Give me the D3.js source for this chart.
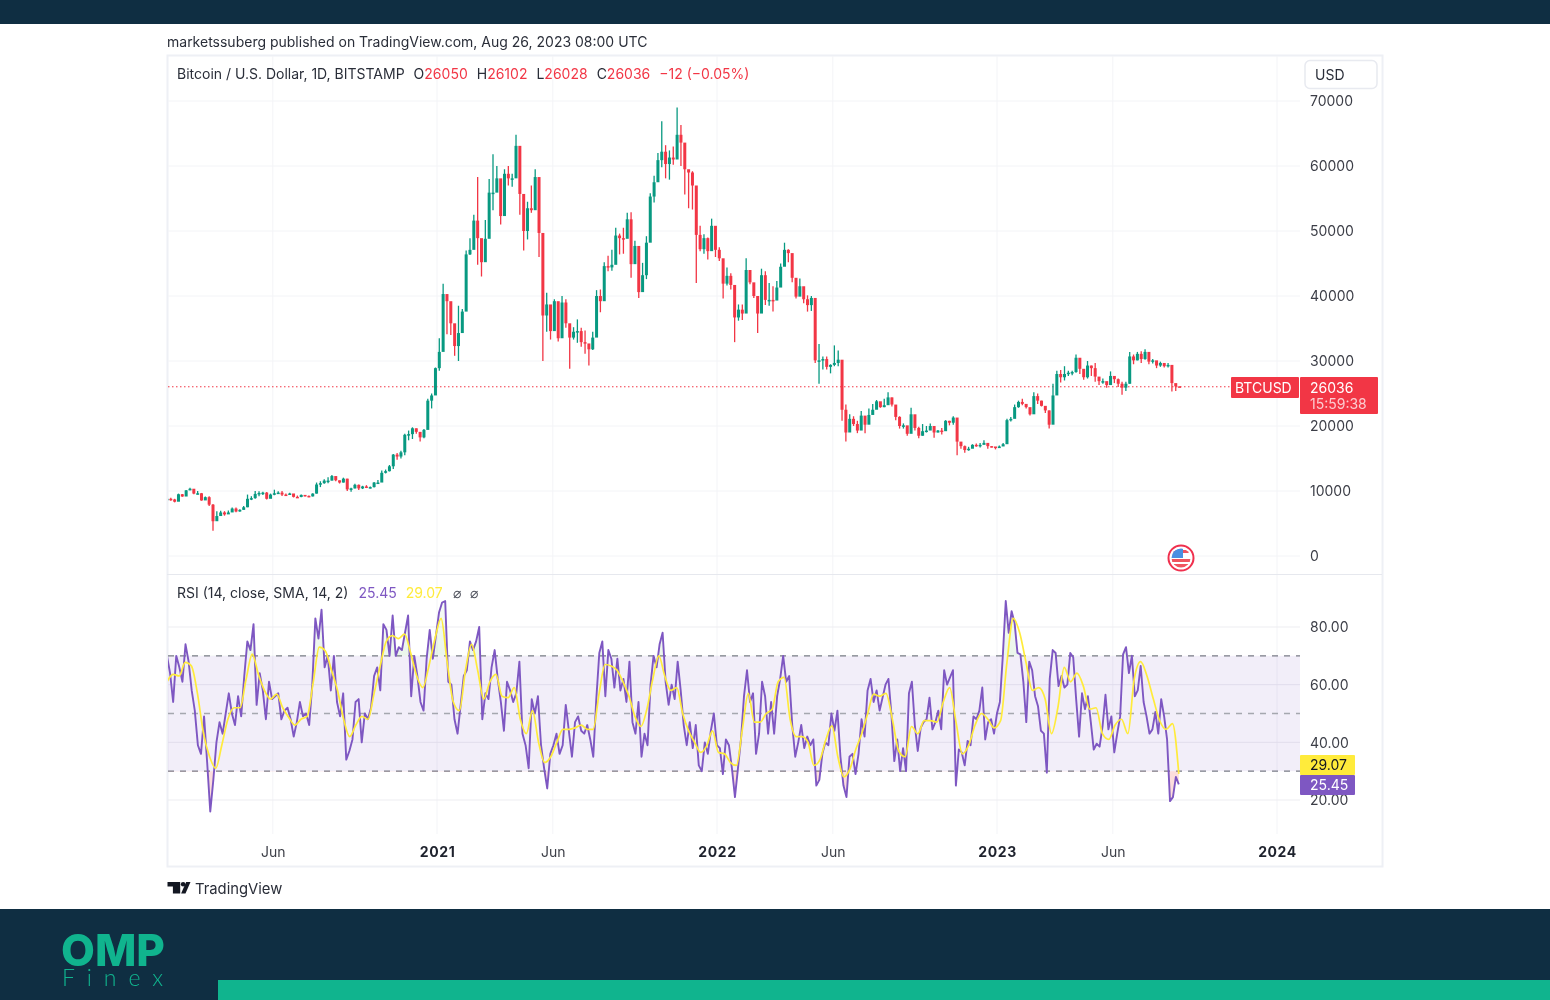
<!DOCTYPE html>
<html>
<head>
<meta charset="utf-8">
<title>BTCUSD</title>
<script src="https://d3js.org/d3.v7.min.js"></script>
<style>
  html, body { margin: 0; padding: 0; background: #fff; }
  svg { display: block; filter: blur(0.35px); }
  text { font-family: Inter, Roboto, "Noto Sans", sans-serif; }
  .axis .domain, .axis line { display: none; }
  .axis text { font-family: Inter, Roboto, sans-serif; font-size: 14px; fill: #3c3e47; }
</style>
</head>
<body>
<script>
const firstDay = new Date(Date.UTC(2020, 0, 15)),
    lastDay = new Date(Date.UTC(2023, 7, 26)),
    candleStep = 5; // [days]

const closes = [
    8800,8700,8350,9500,9150,10100,10350,9600,9650,8550,
    9050,7900,5350,6150,6700,6400,6700,7300,6850,7100,
    7500,8800,8900,9550,9700,9750,8800,9450,9650,9750,
    9450,9400,9620,9100,9080,9400,9250,9170,9600,11000,
    11200,11600,11600,12300,11650,11300,11900,10250,10400,10950,
    10400,10700,10600,10600,11300,11300,12800,13050,13800,15600,
    15300,15950,18650,18750,19650,19100,18250,19400,23900,24700,
    28900,
    31400,40300,39200,35800,32300,34300,37600,46400,47100,51600,
    48900,45200,48800,55900,55900,58100,52300,58800,58100,58100,
    63100,55700,50000,53500,53200,58300,49700,37000,38700,34600,
    39200,33500,39000,35800,33600,34500,34600,32900,32700,31800,
    33600,40000,39200,44600,44400,44800,49300,48900,48800,51800,
    44900,47700,40600,43200,48200,55300,57500,60900,62200,60300,
    61300,61000,64800,63600,59500,59000,57000,49400,47200,48900,
    46900,50800,47100,
    45800,41900,43100,41700,36700,37900,37300,44000,42100,40000,
    37300,43200,39400,39400,39300,41300,44500,47100,46600,42800,
    39900,41500,39500,38600,39700,30100,30100,30300,29100,29400,
    29700,30200,22500,19000,21100,20300,19300,21600,20200,21700,
    22500,23800,22900,23200,24400,23300,21400,20000,20100,18800,
    21800,19700,18500,19200,19300,20000,19000,19300,19200,20800,
    20500,21300,17600,16900,16300,16500,17100,17000,17100,17400,
    16900,16850,16600,
    16850,17200,20900,21100,22900,23700,23400,22900,21800,24600,
    23900,23100,22400,20200,24700,28000,27500,28000,28200,28300,
    30500,28800,27500,29300,28900,27600,26900,26900,26300,27700,
    27200,26500,25900,26500,30700,30100,31100,30300,31400,29900,
    30100,29300,29700,29200,29400,26600,26100,26036
];

const highs = [
    9000,8950,8800,9600,9550,10150,10500,10200,10000,9700,
    9150,9200,8000,6900,6950,6900,7000,7450,7450,7200,
    7700,9450,9200,10000,9950,9900,9850,9600,10200,9950,
    10000,9600,9720,9500,9300,9450,9350,9300,9650,11300,
    11500,11800,12100,12450,12000,11600,12050,11900,10500,11100,
    11000,10800,10900,10700,11400,11700,13150,13300,14000,15700,
    15850,16200,18800,19300,19800,19600,18600,19550,24200,25000,
    29000,
    33500,41900,40000,37900,33000,38500,38000,47000,48900,52500,
    58300,46900,51700,58000,61800,60000,56000,59500,60000,58800,
    64800,57500,52000,54500,57000,59500,51500,45000,40500,37000,
    39500,37500,40000,39500,35500,35200,36400,35100,34700,32400,
    34500,40900,41000,45200,46200,47100,50500,49600,50500,52800,
    52900,48500,45000,45100,49200,55800,58500,62000,66900,63200,
    62400,63000,69000,66300,60900,59400,59200,53900,50800,49500,
    49000,51900,48500,
    47500,43900,44400,43500,38900,38700,38700,45800,43000,41000,
    39800,44200,43800,42000,41500,42300,45000,48200,47200,43800,
    41500,42700,40800,40100,40000,34800,32600,30700,30700,29500,
    32400,31600,27000,23300,21800,21500,20800,22300,20800,22700,
    23400,24000,23500,24200,25200,24400,21700,21500,20400,20000,
    22800,20200,19900,20300,20000,20400,19500,19400,19700,20900,
    20800,21500,18700,17200,17000,16800,17200,17300,17400,17800,
    17000,16900,16700,
    17000,17400,21100,21400,23300,23900,24200,23400,22300,25200,
    25000,23900,22600,22400,26500,28500,28600,29200,28500,28500,
    31000,30400,28000,30000,29300,29700,27500,27300,26800,28400,
    27400,27300,26800,26800,31400,31000,31400,31500,31800,30300,
    30300,29900,29900,29500,29700,29300,26300,26102
];

const lows = [
    8600,8500,8250,9300,9100,9650,10100,9500,9450,8500,
    8600,7700,3900,5600,6400,6200,6500,6800,6750,6800,
    7100,7500,8600,8800,9200,9400,8700,9300,9350,9600,
    9250,9250,9450,9000,9000,9050,9150,9050,9150,9600,
    10600,11100,11200,11600,11500,11150,11300,10000,9900,10400,
    10150,10300,10450,10400,10550,11150,11400,12700,13000,13400,
    14800,15000,15500,17800,18000,18800,17600,18100,21900,22700,
    25800,
    28500,36500,34100,34000,30800,30000,36500,43800,46300,48000,
    44800,43000,46300,49800,53200,57000,51000,54800,57000,56800,
    60000,52500,47000,48700,52800,55000,46000,30000,34500,33300,
    36500,33000,34700,35100,28800,33300,32800,32200,31100,29300,
    31700,37900,37500,42800,43800,43900,48000,46400,46500,50000,
    42800,46700,39700,40800,42600,48500,54400,58900,59800,58100,
    57900,60200,62700,60000,55600,53500,53300,42000,46900,46500,
    45600,48900,46000,
    45400,39600,41600,41000,32900,36200,36300,41500,41800,39700,
    34300,37400,38600,38500,37600,40500,42700,46500,45200,42100,
    39600,40500,38900,37600,37700,29700,26500,28700,28700,28100,
    29200,29200,20800,17600,20800,20000,18900,20600,18900,20700,
    21800,22900,22800,22900,23800,23000,20900,19600,19600,18500,
    21000,19300,18100,18500,19000,19700,18200,19000,18700,19300,
    20100,20200,15500,16500,15900,16200,16700,16800,16700,17200,
    16500,16700,16400,
    16700,17000,19000,20700,22400,22800,23200,22700,21600,23300,
    23400,23000,22000,19600,22700,26500,26700,27000,27700,27800,
    28200,28000,27100,27300,27700,26800,26300,26500,25900,27000,
    26600,26000,24800,25400,26500,29500,30100,29700,30200,29500,
    29600,28900,29100,29000,29000,25300,25400,26028
];

const rsiValues = [
    70,64,54,70,66,61,74,68,58,51,39,36,49,33,16,27,40,47,43,50,
    57,50,46,56,49,63,75,72,81,53,64,58,48,61,55,56,57,48,51,52,
    48,42,47,54,49,50,46,60,83,76,86,66,70,58,70,54,49,57,34,37,
    41,54,55,40,50,48,52,63,66,58,81,79,70,84,70,73,72,78,84,56,
    70,63,54,51,69,79,69,77,85,88.5,89,61,60,48,43,53,63,65,75,72,
    75,80,48,57,55,66,72,62,54,44,61,58,54,57,68,43,39,31,55,50,
    56,39,31,24,36,39,43,36,39,53,44,35,47,49,
    44,43,46,41,35,55,71,75,56,72,69,59,69,58,62,54,68,47,43,54,
    35,43,39,60,70,66,74,78,61,53,60,55,68,58,46,39,47,38,46,32,
    30,40,36,44,50,39,38,29,41,39,31,21,31,41,56,65,54,57,36,43,
    61,56,43,54,43,56,62,70,61,63,46,35,40,46,38,42,39,41,25,27,
    36,40,39,50,44,51,35,25,21,35,36,29,36,48,42,58,62,54,58,
    51,55.5,60,62,50,33.5,41,30,38,30,57,61,46,37,45,47,48,55.5,44.5,47,
    51,44.5,65,60,62.5,65,25,37.5,36.5,32,40.5,39,49,48,51,59,41,47,48,43,
    50,54,70,89,78,85.5,81.5,71,70.5,61,47,68,65,56,52.5,44,43,29.5,62,72,
    71,59.5,63,59,60,71,69.5,55,42,57,51.5,56,47,37.5,39.5,38.5,45.5,56.5,44.5,49,
    36.5,43,49,70.5,73,64,70,56,58,66.5,54,49,43,44.5,50.5,43,55,49,41,19.6,
    21,28,25.45
];
const rsiBreaks = [0, 134, 233, 335];

// RSI-based moving average, same three stretches
const rsiMaValues = [
    61,63.6,63,67.7,66.5,57,43,35,31,39,48,52,52,62,70.6,63.6,58,55,56.7,52,
    48.6,46,48,49,60.7,73,71.7,65,58,48,42,46,49,48,57,66.5,75,77,76,77.5,
    71,63,59,66.5,76,83,67.7,54,51,65,74,65,55,61,63.6,56,55.5,59,48,43,
    51,40,33,35,40,44.5,44.5,45,
    46,44.5,44.5,57,67,66.5,65,61,56,49,45.5,51.5,62,70,63,58,59,50,44,40,
    36.5,38.7,44,36.5,36,33,32,44.5,57,47,47,50,51.5,61,62.5,48,42,42,40,32,
    34,41,45.7,35,28,30.6,37.5,43,50,56.7,
    56,57,48,37,35,45.5,43,47.5,47.5,47,54,59,47,36,39,46,50,48,45,47.5,
    67.7,83,78,67.7,58,59,55,43,52,66,61,64,59.5,51.5,52,43,41,46,48,43,
    62,68,63,55,47.5,44.5,46.5,29.07
];
const rsiMaBreaks = [0, 68, 118, 165];

// where the three stretches start and end
const stretchDates = [firstDay, new Date(Date.UTC(2021, 6, 8)), new Date(Date.UTC(2022, 7, 1)), lastDay];

const priceTicks = [0, 10000, 20000, 30000, 40000, 50000, 60000, 70000],
    rsiTicks = [20, 40, 60, 80],
    rsiLevels = [70, 50, 30],
    timeTicks = [
        {date: new Date(Date.UTC(2020, 5, 1)), label: "Jun"},
        {date: new Date(Date.UTC(2021, 0, 1)), label: "2021", year: true},
        {date: new Date(Date.UTC(2021, 5, 1)), label: "Jun"},
        {date: new Date(Date.UTC(2022, 0, 1)), label: "2022", year: true},
        {date: new Date(Date.UTC(2022, 5, 1)), label: "Jun"},
        {date: new Date(Date.UTC(2023, 0, 1)), label: "2023", year: true},
        {date: new Date(Date.UTC(2023, 5, 1)), label: "Jun"},
        {date: new Date(Date.UTC(2024, 0, 1)), label: "2024", year: true}
    ];

const lastPrice = 26036,
    lastRsi = 25.45,
    lastRsiMa = 29.07;

// colours
const up = "#089981",
    down = "#f23645",
    purple = "#7e57c2",
    yellow = "#ffeb3b",
    navy = "#0f2e42",
    teal = "#10b48e",
    grid = "#f3f4f7",
    frame = "#eef0f5";

// pane layout
const plotLeft = 168,
    plotRight = 1300,
    frameRight = 1382;

const svg = d3.select("body").append("svg")
    .attr("width", 1550)
    .attr("height", 1000);

const defs = svg.append("defs");
defs.append("clipPath").attr("id", "plotClip")
    .append("rect").attr("x", plotLeft).attr("y", 56).attr("width", plotRight - plotLeft).attr("height", 810);
defs.append("clipPath").attr("id", "overClip")
    .append("rect").attr("x", plotLeft).attr("y", 575).attr("width", plotRight - plotLeft).attr("height", 81);
defs.append("clipPath").attr("id", "underClip")
    .append("rect").attr("x", plotLeft).attr("y", 771).attr("width", plotRight - plotLeft).attr("height", 60);
let overGrad = defs.append("linearGradient").attr("id", "overGrad")
    .attr("x1", 0).attr("x2", 0).attr("y1", 0).attr("y2", 1);
overGrad.append("stop").attr("offset", "0%").attr("stop-color", "#4caf50").attr("stop-opacity", 0.05);
overGrad.append("stop").attr("offset", "100%").attr("stop-color", "#4caf50").attr("stop-opacity", 0.3);

// scales
let xScale = d3.scaleUtc()
    .domain([new Date(Date.UTC(2021, 0, 1)), new Date(Date.UTC(2024, 0, 1))])
    .range([437, 1277]);
let yPrice = d3.scaleLinear().domain([0, 70000]).range([556, 101]);
let yRsi = d3.scaleLinear().domain([20, 80]).range([800, 627]);
// index -> time, kept in ms because d3's date interpolator reuses one Date object
let rsiDate = d3.scaleLinear().domain(rsiBreaks).range(stretchDates.map(Number));
let maDate = d3.scaleLinear().domain(rsiMaBreaks).range(stretchDates.map(Number));

const dayMs = 86400000;

let candles = closes.map((c, i) => ({
    date: new Date(+firstDay + i * candleStep * dayMs),
    open: i ? closes[i - 1] : 8700,
    close: c,
    high: highs[i],
    low: lows[i]
}));
let rsiData = rsiValues.map((v, i) => ({date: new Date(rsiDate(i)), v: v}));
let maData = rsiMaValues.map((v, i) => ({date: new Date(maDate(i)), v: v}));

// header and footer bands
svg.append("rect").attr("width", 1550).attr("height", 24).attr("fill", navy);
svg.append("rect").attr("y", 909).attr("width", 1550).attr("height", 91).attr("fill", navy);
svg.append("rect").attr("x", 218).attr("y", 980).attr("width", 1332).attr("height", 20).attr("fill", teal);

svg.append("text").attr("x", 167).attr("y", 47)
    .attr("font-size", 14).attr("fill", "#2a2e39")
    .text("marketssuberg published on TradingView.com, Aug 26, 2023 08:00 UTC");

// chart frame
svg.append("rect").attr("x", 167.5).attr("y", 55.5)
    .attr("width", frameRight - 167).attr("height", 811)
    .attr("fill", "#fff").attr("stroke", frame).attr("stroke-width", 2);

// grid
let gridG = svg.append("g");
gridG.selectAll(".vgrid").data(timeTicks).join("line")
    .attr("x1", d => xScale(d.date)).attr("x2", d => xScale(d.date))
    .attr("y1", 56).attr("y2", 834)
    .attr("stroke", grid);
gridG.selectAll(".pgrid").data(priceTicks).join("line")
    .attr("x1", plotLeft).attr("x2", plotRight)
    .attr("y1", d => yPrice(d)).attr("y2", d => yPrice(d))
    .attr("stroke", grid);

svg.append("line").attr("x1", 167).attr("x2", frameRight)
    .attr("y1", 574.5).attr("y2", 574.5).attr("stroke", "#e6e8ee");

// rsi background
svg.append("rect").attr("x", plotLeft).attr("width", plotRight - plotLeft)
    .attr("y", yRsi(70)).attr("height", yRsi(30) - yRsi(70))
    .attr("fill", purple).attr("fill-opacity", 0.1);
gridG.selectAll(".rgrid").data(rsiTicks).join("line")
    .attr("x1", plotLeft).attr("x2", plotRight)
    .attr("y1", d => yRsi(d)).attr("y2", d => yRsi(d))
    .attr("stroke", "#ebebf0").attr("stroke-opacity", 0.9);
svg.selectAll(".level").data(rsiLevels).join("line")
    .attr("x1", plotLeft).attr("x2", plotRight)
    .attr("y1", d => yRsi(d)).attr("y2", d => yRsi(d))
    .attr("stroke", d => d == 50 ? "#a5a7af" : "#787b86")
    .attr("stroke-width", 1.3)
    .attr("stroke-dasharray", "6 6");

// last price line
svg.append("line").attr("x1", plotLeft).attr("x2", 1231)
    .attr("y1", yPrice(lastPrice)).attr("y2", yPrice(lastPrice))
    .attr("stroke", down).attr("stroke-width", 1).attr("stroke-dasharray", "1.5 2.5");

// candles
let candleG = svg.append("g").attr("clip-path", "url(#plotClip)");
candleG.selectAll(".wick").data(candles).join("line")
    .attr("x1", d => xScale(d.date)).attr("x2", d => xScale(d.date))
    .attr("y1", d => yPrice(d.high)).attr("y2", d => yPrice(d.low))
    .attr("stroke", d => d.close >= d.open ? up : down)
    .attr("stroke-width", 1.3);
candleG.selectAll(".body").data(candles).join("rect")
    .attr("x", d => xScale(d.date) - 1.5)
    .attr("width", 3)
    .attr("y", d => yPrice(Math.max(d.open, d.close)))
    .attr("height", d => Math.max(1.5, Math.abs(yPrice(d.open) - yPrice(d.close))))
    .attr("fill", d => d.close >= d.open ? up : down);

// rsi fills and lines
let rsiArea = d3.area()
    .x(d => xScale(d.date))
    .y0(yRsi(70))
    .y1(d => yRsi(d.v));
let rsiAreaLow = d3.area()
    .x(d => xScale(d.date))
    .y0(yRsi(30))
    .y1(d => yRsi(d.v));
let rsiLine = d3.line().x(d => xScale(d.date)).y(d => yRsi(d.v));
let maLine = d3.line().x(d => xScale(d.date)).y(d => yRsi(d.v)).curve(d3.curveMonotoneX);

let rsiG = svg.append("g").attr("clip-path", "url(#plotClip)");
rsiG.append("g").attr("clip-path", "url(#overClip)").append("path")
    .datum(rsiData).attr("d", rsiArea).attr("fill", "url(#overGrad)");
rsiG.append("g").attr("clip-path", "url(#underClip)").append("path")
    .datum(rsiData).attr("d", rsiAreaLow).attr("fill", "#ef5350").attr("fill-opacity", 0.2);
rsiG.append("path").datum(rsiData)
    .attr("d", rsiLine).attr("fill", "none")
    .attr("stroke", purple).attr("stroke-width", 1.9).attr("stroke-linejoin", "round");
rsiG.append("path").datum(maData)
    .attr("d", maLine).attr("fill", "none")
    .attr("stroke", yellow).attr("stroke-width", 1.7);

// axes
let priceAxis = d3.axisRight(yPrice).tickValues(priceTicks).tickSize(0).tickPadding(0).tickFormat(d3.format("d"));
svg.append("g").attr("class", "axis").attr("transform", "translate(1310,0)").call(priceAxis);
let rsiAxis = d3.axisRight(yRsi).tickValues(rsiTicks).tickSize(0).tickPadding(0).tickFormat(d3.format(".2f"));
svg.append("g").attr("class", "axis").attr("transform", "translate(1310,0.5)").call(rsiAxis);
let timeAxis = d3.axisBottom(xScale)
    .tickValues(timeTicks.map(d => d.date))
    .tickSize(0).tickPadding(0)
    .tickFormat((d, i) => timeTicks[i].label);
svg.append("g").attr("class", "axis").attr("transform", "translate(0,847)").call(timeAxis)
    .selectAll("text")
    .style("font-weight", (d, i) => timeTicks[i].year ? 700 : 400)
    .style("letter-spacing", (d, i) => timeTicks[i].year ? "0.6px" : "0")
    .style("fill", (d, i) => timeTicks[i].year ? "#1e222d" : "#3c3e47");

// legends
function legend(y, parts, startX) {
    let t = svg.append("text").attr("x", startX).attr("y", y).attr("font-size", 14);
    parts.forEach(p => t.append("tspan").attr("fill", p[1]).attr("dx", p[2] || 0).text(p[0]));
}
legend(79, [
    ["Bitcoin / U.S. Dollar, 1D, BITSTAMP", "#2a2e39"],
    ["O", "#2a2e39", 9], ["26050", down],
    ["H", "#2a2e39", 9], ["26102", down],
    ["L", "#2a2e39", 9], ["26028", down],
    ["C", "#2a2e39", 9], ["26036", down],
    ["\u221212 (\u22120.05%)", down, 9]
], 177);
legend(598, [
    ["RSI (14, close, SMA, 14, 2)", "#2a2e39"],
    [d3.format(".2f")(lastRsi), purple, 10],
    [d3.format(".2f")(lastRsiMa), yellow, 9],
    ["\u2300", "#50535e", 10],
    ["\u2300", "#50535e", 9]
], 177);

// USD button
svg.append("rect").attr("x", 1305).attr("y", 60.5).attr("width", 72).attr("height", 28).attr("rx", 5)
    .attr("fill", "#fff").attr("stroke", "#e8eaf0").attr("stroke-width", 1.5);
svg.append("text").attr("x", 1315).attr("y", 80).attr("font-size", 14).attr("fill", "#2a2e39").text("USD");

// price tags
svg.append("rect").attr("x", 1231).attr("y", 377).attr("width", 68).attr("height", 21).attr("rx", 1).attr("fill", down);
svg.append("text").attr("x", 1235).attr("y", 393).attr("font-size", 14).attr("fill", "#fff").text("BTCUSD");
svg.append("rect").attr("x", 1300).attr("y", 377).attr("width", 78).attr("height", 37).attr("rx", 1).attr("fill", down);
svg.append("text").attr("x", 1310).attr("y", 393).attr("font-size", 14).attr("fill", "#fff").text(lastPrice);
svg.append("text").attr("x", 1310).attr("y", 409).attr("font-size", 14).attr("fill", "#fff").attr("fill-opacity", 0.75).text("15:59:38");

svg.append("rect").attr("x", 1300).attr("y", 755).attr("width", 55).attr("height", 20).attr("rx", 1).attr("fill", yellow);
svg.append("text").attr("x", 1310).attr("y", 770).attr("font-size", 14).attr("fill", "#131722").text(d3.format(".2f")(lastRsiMa));
svg.append("rect").attr("x", 1300).attr("y", 775).attr("width", 55).attr("height", 20).attr("rx", 1).attr("fill", purple);
svg.append("text").attr("x", 1310).attr("y", 790).attr("font-size", 14).attr("fill", "#fff").text(d3.format(".2f")(lastRsi));

// event icon
let flag = svg.append("g").attr("transform", "translate(1181,558)");
defs.append("clipPath").attr("id", "flagClip").append("circle").attr("r", 9.5);
flag.append("circle").attr("r", 12.5).attr("fill", "#fff").attr("stroke", "#f0304e").attr("stroke-width", 2);
let flagIn = flag.append("g").attr("clip-path", "url(#flagClip)");
flagIn.append("rect").attr("x", -10).attr("y", -10).attr("width", 20).attr("height", 20).attr("fill", "#fff");
flagIn.append("rect").attr("x", -10).attr("y", -8).attr("width", 20).attr("height", 3).attr("fill", "#f0545f");
flagIn.append("rect").attr("x", -10).attr("y", 1).attr("width", 20).attr("height", 3).attr("fill", "#f0545f");
flagIn.append("rect").attr("x", -10).attr("y", 6).attr("width", 20).attr("height", 4).attr("fill", "#f0545f");
flagIn.append("rect").attr("x", -10).attr("y", -10).attr("width", 12).attr("height", 10).attr("fill", "#4a90e2");

// TradingView logo
let tv = svg.append("g").attr("transform", "translate(167.5,882)").attr("fill", "#131722");
tv.append("path").attr("d", "M0 0H12.7V11.5H5.4V4.4H0Z");
tv.append("circle").attr("cx", 15.6).attr("cy", 2.3).attr("r", 2.3);
tv.append("path").attr("d", "M23 0H18.6L13.6 11.5H18Z");
svg.append("text").attr("x", 195).attr("y", 894).attr("font-size", 14.8).attr("fill", "#2a2e39").text("TradingView");

// OMP Finex logo
svg.append("text").attr("x", 61).attr("y", 965.5).attr("font-size", 44).attr("font-weight", 800)
    .attr("fill", teal).attr("textLength", 104).attr("lengthAdjust", "spacingAndGlyphs").text("OMP");
svg.append("text").attr("x", 62).attr("y", 985.5).attr("font-size", 23).attr("font-weight", 300)
    .style("font-family", "Lato, sans-serif")
    .attr("fill", teal).attr("textLength", 101).attr("lengthAdjust", "spacing").text("Finex");
</script>
</body>
</html>
